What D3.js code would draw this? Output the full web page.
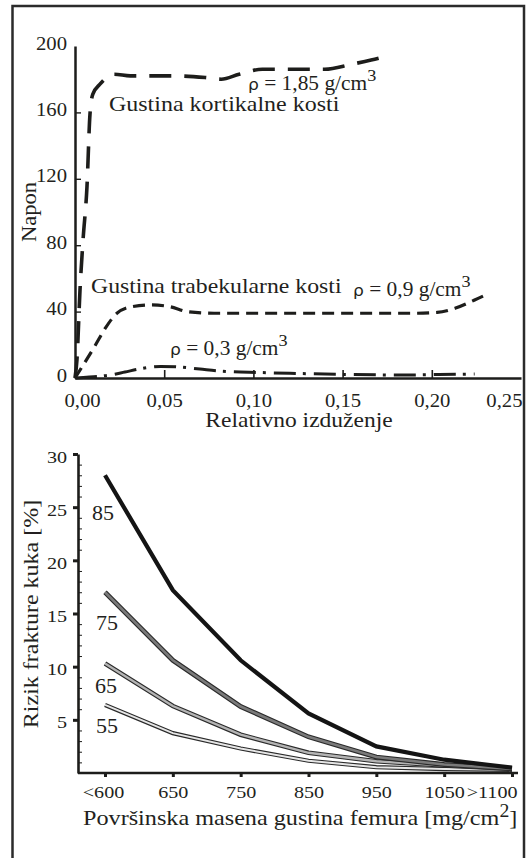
<!DOCTYPE html>
<html>
<head>
<meta charset="utf-8">
<script src="https://cdn.jsdelivr.net/npm/d3@7"></script>
<style>
body{margin:0;background:#fff}
svg{display:block}
text{font-family:"Liberation Serif","Times New Roman",serif;fill:#231f20}
</style>
</head>
<body>
<svg id="chart" width="531" height="858"></svg>
<script>
// gornji grafik: napon / relativno izduzenje
const strainTicks = [0, 0.05, 0.10, 0.15, 0.20, 0.25];
const stressTicks = [0, 40, 80, 120, 160, 200];
const corticalCurve = [[0,0],[0.0011,11],[0.0028,53],[0.0045,83],[0.0067,115],[0.0084,159],[0.010,171],[0.014,177],
  [0.022,183],[0.031,182],[0.056,182],[0.073,181],[0.082,180],[0.092,183],[0.105,186],[0.123,186],[0.140,186],
  [0.155,189],[0.166,191.5],[0.177,194.5]];
const trabecularCurve = [[0,0],[0.011,19],[0.017,30],[0.0235,39],[0.032,43],[0.043,44],[0.053,43],[0.063,40],
  [0.078,39],[0.126,39],[0.189,39],[0.203,39.5],[0.213,42],[0.224,47],[0.232,51]];
const lowDensityCurve = [[0,0],[0.008,0.6],[0.0196,1.8],[0.028,3.6],[0.036,5.4],[0.048,7],[0.059,6.6],[0.070,5.4],
  [0.081,4.2],[0.104,3.3],[0.126,2.7],[0.154,2.1],[0.182,1.8],[0.204,2.1],[0.224,2.4]];

// donji grafik: rizik frakture kuka po starosti
const densityCats = ["<600", "650", "750", "850", "950", "1050", ">1100"];
const riskTicks = [5, 10, 15, 20, 25, 30];
const ages = ["85", "75", "65", "55"];
const risk85 = [28.0, 17.2, 10.6, 5.6, 2.5, 1.25, 0.5];
const risk75 = [17.0, 10.6, 6.25, 3.4, 1.5, 0.8, 0.4];
const risk65 = [10.3, 6.3, 3.6, 1.9, 1.1, 0.7, 0.4];
const risk55 = [6.4, 3.75, 2.3, 1.15, 0.55, 0.37, 0.3];

const svg = d3.select('#chart');
const ink = '#1d1d1b';
const serif = '"Liberation Serif","Times New Roman",serif';

// okvir
svg.append('rect')
  .attr('x', 12.5).attr('y', 6)
  .attr('width', 511.5).attr('height', 900)
  .attr('fill', 'none').attr('stroke', '#2b2b2b').attr('stroke-width', 2.5);

function label(g, x, y, size, sx, anchor, rot)
{
  return g.append('text')
    .attr('transform', `translate(${x},${y}) rotate(${rot || 0}) scale(${sx},1)`)
    .attr('text-anchor', anchor || 'start')
    .style('font-family', serif)
    .style('font-size', size + 'px');
}

function rhoLabel(g, x, y, txt)
{
  const t = label(g, x, y, 20, 1.07);
  t.append('tspan').style('font-family', '"DejaVu Sans",sans-serif').style('font-size', '16px').text('ρ');
  t.append('tspan').text(' = ' + txt + ' g/cm');
  t.append('tspan').attr('dy', -9).style('font-size', '17px').text('3');
}

const comma = d => d3.format('.2f')(d).replace('.', ',');

/* ---------- gornji grafik ---------- */
const x1 = d3.scaleLinear().domain([0, 0.25]).range([75, 521]);
const y1 = d3.scaleLinear().domain([0, 200]).range([378, 46]);
const topG = svg.append('g');

// x osa s oznakama
const xAx = topG.append('g').attr('transform', `translate(0,${y1(0)})`)
  .call(d3.axisBottom(x1).tickValues(strainTicks).tickSize(0).tickSizeOuter(0).tickFormat(comma));
xAx.select('.domain').attr('stroke', ink).attr('stroke-width', 2.5);
xAx.selectAll('text')
  .attr('y', 29).attr('dy', null)
  .attr('transform', 'scale(1.15,1)')
  .style('font-family', serif).style('font-size', '18px')
  .attr('text-anchor', (d, i) => i === 0 ? 'start' : (i === strainTicks.length - 1 ? 'end' : 'middle'))
  .attr('x', (d, i) => i === 0 ? -11 / 1.15 : (i === strainTicks.length - 1 ? 1 / 1.15 : 0));
topG.append('g').attr('transform', `translate(0,${y1(0)})`)
  .call(d3.axisBottom(x1).tickValues(strainTicks.slice(1, 5)).tickSize(-8).tickFormat(''))
  .call(g => g.select('.domain').remove())
  .selectAll('line').attr('stroke', ink).attr('stroke-width', 1.6);

// y osa
const yAx = topG.append('g').attr('transform', `translate(${x1(0)},0)`)
  .call(d3.axisLeft(y1).tickValues(stressTicks).tickSize(0).tickSizeOuter(0));
yAx.select('.domain').attr('stroke', ink).attr('stroke-width', 2.5);
yAx.selectAll('text')
  .attr('x', -8 / 1.15).attr('dy', null).attr('y', 3)
  .attr('transform', 'scale(1.15,1)')
  .style('font-family', serif).style('font-size', '18px');
topG.append('g').attr('transform', `translate(${x1(0)},0)`)
  .call(d3.axisRight(y1).tickValues(stressTicks.slice(1, 5)).tickSize(6).tickFormat(''))
  .call(g => g.select('.domain').remove())
  .selectAll('line').attr('stroke', ink).attr('stroke-width', 1.4);

// krive
const strainLine = d3.line().x(d => x1(d[0])).y(d => y1(d[1])).curve(d3.curveMonotoneX);
topG.append('path').datum(corticalCurve)
  .attr('d', strainLine).attr('fill', 'none').attr('stroke', ink)
  .attr('stroke-width', 3.6).attr('stroke-dasharray', '22,13');
topG.append('path').datum(trabecularCurve)
  .attr('d', strainLine).attr('fill', 'none').attr('stroke', ink)
  .attr('stroke-width', 3.2).attr('stroke-dasharray', '12,7');
topG.append('path').datum(lowDensityCurve)
  .attr('d', strainLine).attr('fill', 'none').attr('stroke', ink)
  .attr('stroke-width', 3).attr('stroke-dasharray', '22,7,3,8');

// natpisi
label(topG, 109, 111, 22, 1.09).text('Gustina kortikalne kosti');
label(topG, 91, 293, 22, 1.08).text('Gustina trabekularne kosti');
rhoLabel(topG, 248, 90, '1,85');
rhoLabel(topG, 353, 296, '0,9');
rhoLabel(topG, 170, 355, '0,3');
label(topG, 36, 212, 20, 1.13, 'middle', -90).text('Napon');
label(topG, 299, 427, 21, 1.12, 'middle').text('Relativno izduženje');

/* ---------- donji grafik ---------- */
const x2 = d3.scalePoint().domain(densityCats).range([105, 512]);
const y2 = d3.scaleLinear().domain([0, 30]).range([773, 454]);
const botG = svg.append('g');

// y osa: glavne i pomocne podjele
const yAx2 = botG.append('g').attr('transform', `translate(78,0)`)
  .call(d3.axisLeft(y2).tickValues(riskTicks).tickSize(5).tickSizeOuter(0).tickPadding(11));
yAx2.select('.domain').attr('stroke', ink).attr('stroke-width', 2.6);
yAx2.selectAll('line').attr('stroke', ink).attr('stroke-width', 3);
yAx2.selectAll('text')
  .attr('x', -11 / 1.15).attr('dy', null).attr('y', 8)
  .attr('transform', 'scale(1.15,1)')
  .style('font-family', serif).style('font-size', '17.5px');
botG.append('g').attr('transform', `translate(78,0)`)
  .call(d3.axisRight(y2).tickValues(d3.range(1, 30).filter(v => v % 5 !== 0)).tickSize(4).tickFormat(''))
  .call(g => g.select('.domain').remove())
  .selectAll('line').attr('stroke', ink).attr('stroke-width', 1);

// x osa
const xAx2 = botG.append('g').attr('transform', `translate(0,${y2(0)})`)
  .call(d3.axisBottom(x2).tickSize(4).tickSizeOuter(0));
xAx2.select('.domain').attr('stroke', ink).attr('stroke-width', 2.6)
  .attr('d', `M${78},0H${518}`);
xAx2.selectAll('line').attr('stroke', ink).attr('stroke-width', 3);
xAx2.selectAll('text')
  .attr('y', 25).attr('dy', null)
  .attr('transform', 'scale(1.15,1)')
  .style('font-family', serif).style('font-size', '17.5px')
  .attr('text-anchor', (d, i) => i === densityCats.length - 1 ? 'end' : 'middle')
  .attr('x', (d, i) => i === 0 ? -2 / 1.15 : (i === densityCats.length - 1 ? 5 / 1.15 : 0));

// linije rizika (tanka kontura + ispuna)
const riskLine = d3.line().x((d, i) => x2(densityCats[i])).y(d => y2(d));
const series = [
  {vals: risk55, fill: '#e6e6e6', w: 4.2},
  {vals: risk65, fill: '#b4b4b4', w: 4.6},
  {vals: risk75, fill: '#7a7a7a', w: 4.8},
];
series.forEach(s => {
  botG.append('path').datum(s.vals).attr('d', riskLine).attr('fill', 'none')
    .attr('stroke', '#2a2a2a').attr('stroke-width', s.w);
  botG.append('path').datum(s.vals).attr('d', riskLine).attr('fill', 'none')
    .attr('stroke', s.fill).attr('stroke-width', s.w - 2.2);
});
botG.append('path').datum(risk85).attr('d', riskLine).attr('fill', 'none')
  .attr('stroke', '#141414').attr('stroke-width', 4.2);

// oznake starosti
const ageX = [92, 96, 95, 96];
const ageY = [520, 630, 693, 733];
ages.forEach((a, i) => label(botG, ageX[i], ageY[i], 22, 1).text(a));

label(botG, 38, 614, 22, 1.09, 'middle', -90).text('Rizik frakture kuka [%]');
const xl = label(botG, 83, 825, 22, 1.1);
xl.append('tspan').text('Površinska masena gustina femura [mg/cm');
xl.append('tspan').attr('dy', -8).style('font-size', '18px').text('2');
xl.append('tspan').attr('dy', 8).text(']');
</script>
</body>
</html>
